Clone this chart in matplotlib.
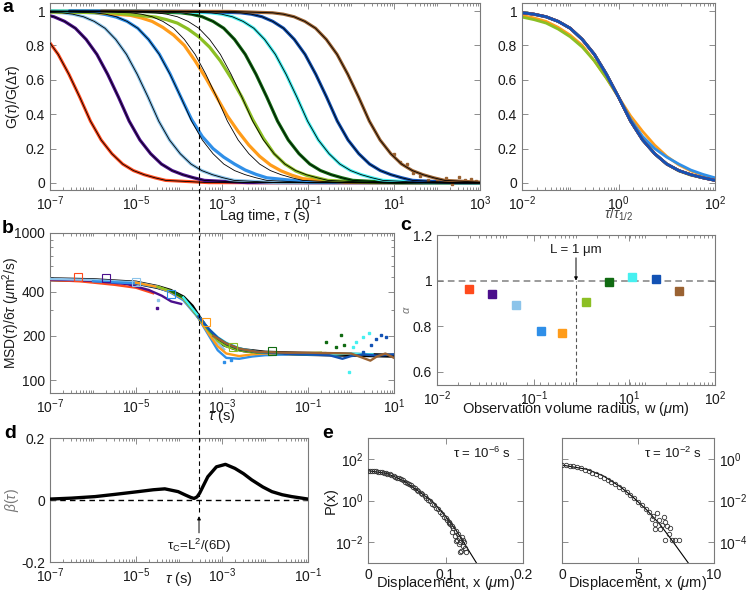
import numpy as np
import matplotlib
matplotlib.use('Agg')
import matplotlib.pyplot as plt
from matplotlib.lines import Line2D
from matplotlib import transforms as mtrans
from matplotlib.ticker import LogLocator, NullFormatter, NullLocator, FixedLocator, FixedFormatter

plt.rcParams['font.family'] = ['Liberation Sans', 'DejaVu Sans']
plt.rcParams['mathtext.fontset'] = 'custom'
plt.rcParams['mathtext.rm'] = 'Liberation Sans'
plt.rcParams['mathtext.it'] = 'Liberation Sans:italic'

# ---------------- data ----------------
colors = ['#ff4a1c', '#4b0f8c', '#8cc4ea', '#2f8fe8', '#ff9c1a',
          '#8cbf24', '#116b12', '#46f0f0', '#1352b4', '#9a6232']
# half-decay times of the correlation curves (s)
tau_half = [4.9e-7, 3.9e-6, 1.9e-5, 1.1e-4, 7.5e-4, 2.9e-3, 1.1e-2, 5.5e-2, 0.27, 1.5]
# curve shape used by each series (index into shapes)
shape_of = ['normal', 'normal', 'normal', 'tail', 'broad', 'yg', 'normal', 'normal', 'normal', 'normal']

# master curves, G vs log10(tau/tau_half)
logr = [-6, -3, -2, -1.75, -1.5, -1.25, -1, -0.75, -0.5, -0.25, 0, 0.25, 0.5, 0.75, 1, 1.25, 1.5, 1.75, 2, 3, 10]
G_normal = [1.0, 0.998, 0.99, 0.982, 0.967, 0.94, 0.90, 0.835, 0.748, 0.632, 0.5, 0.36, 0.25, 0.17, 0.11, 0.072, 0.048, 0.03, 0.015, 0.002, 0.0]
G_broad = [1.0, 0.995, 0.975, 0.96, 0.94, 0.905, 0.86, 0.80, 0.71, 0.61, 0.5, 0.39, 0.30, 0.22, 0.155, 0.105, 0.07, 0.045, 0.025, 0.004, 0.0]
G_tail = [1.0, 0.998, 0.99, 0.98, 0.965, 0.94, 0.90, 0.835, 0.75, 0.635, 0.5, 0.37, 0.27, 0.20, 0.15, 0.11, 0.075, 0.05, 0.03, 0.005, 0.0]
G_yg = [1.0, 0.99, 0.965, 0.95, 0.93, 0.895, 0.85, 0.79, 0.71, 0.61, 0.5, 0.37, 0.26, 0.17, 0.11, 0.07, 0.045, 0.03, 0.015, 0.002, 0.0]
shapes = {'normal': G_normal, 'broad': G_broad, 'tail': G_tail, 'yg': G_yg}

# noisy tail of the slowest (brown) curve: log10(tau), G
brown_tail_logt = [1.0, 1.15, 1.3, 1.45, 1.6, 1.8, 2.0, 2.2, 2.35, 2.5, 2.65, 2.8, 2.9]
brown_tail_G = [0.17, 0.12, 0.11, 0.06, 0.04, 0.02, 0.01, 0.03, -0.005, 0.035, 0.02, 0.025, 0.01]

# panel b: MSD/6tau (um^2/s) vs log10(tau)
b_black_logt = [-7, -6, -5, -4.5, -4.2, -3.9, -3.7, -3.55, -3.4, -3.25, -3.1, -2.95, -2.7, -2.5, -2, -1, 0, 1]
b_black_val = [485, 478, 460, 430, 405, 365, 318, 272, 235, 208, 188, 175, 165, 160, 154, 151, 149, 147]
b_logt = [
    [-7, -6.3, -5.5, -5, -4.6],
    [-7, -6, -5.2, -4.7, -4.4, -4.18, -3.95],
    [-7, -6, -5, -4.5, -4.2, -3.9, -3.55, -3.3, -3.1, -2.95],
    [-6, -5, -4.5, -4.2, -3.9, -3.55, -3.3, -3.1, -2.9, -2.6, -2.3, -2.0, -1.5],
    [-5, -4.5, -4.2, -3.9, -3.55, -3.3, -3.1, -2.9, -2.6, -2.3, -2.0, -1.5],
    [-4.5, -4.2, -3.9, -3.55, -3.3, -3.1, -2.9, -2.6, -2.3, -1.5, -1.0, -0.7],
    [-4.2, -3.9, -3.55, -3.3, -3.1, -2.9, -2.6, -2.2, -1.5, -1.0, -0.6],
    [-3.9, -3.55, -3.3, -3.1, -2.9, -2.6, -2.2, -1.5, -1.0, -0.5, 0.0, 0.5],
    [-3.55, -3.3, -3.1, -2.9, -2.6, -2.2, -1.5, -1.0, -0.5, -0.2, 0.0, 0.3, 0.6, 1.0],
    [-3.2, -2.9, -2.6, -2.2, -1.5, -1.0, -0.5, 0.0, 0.25, 0.45, 0.6, 0.8, 1.0],
]
b_val = [
    [480, 470, 445, 425, 390],
    [484, 474, 450, 410, 375, 343, 330],
    [488, 480, 462, 432, 400, 355, 268, 215, 180, 162],
    [470, 455, 428, 395, 350, 265, 200, 160, 142, 140, 145, 148, 150],
    [460, 430, 400, 358, 268, 205, 170, 152, 146, 150, 152, 152],
    [432, 405, 362, 270, 215, 185, 170, 160, 155, 152, 153, 154],
    [405, 364, 272, 220, 192, 176, 162, 155, 152, 152, 153],
    [365, 273, 222, 196, 180, 165, 156, 151, 150, 149, 152, 150],
    [272, 222, 195, 178, 164, 156, 151, 150, 148, 140, 146, 150, 147, 150],
    [200, 178, 164, 156, 154, 154, 153, 152, 143, 136, 145, 152, 142],
]
# scattered noisy points in panel b: (series index, log10 tau, value)
b_noise_idx = [1, 2, 3, 3, 6, 6, 6, 6, 7, 7, 7, 7, 7, 8, 8, 8, 8, 8]
b_noise_logt = [-4.52, -4.5, -2.95, -2.8, -0.58, -0.23, -0.35, -0.16, 0.12, 0.27, 0.42, 0.04, -0.04, 0.58, 0.70, 0.81, 0.27, 0.46]
b_noise_val = [312, 350, 133, 137, 182, 202, 169, 173, 182, 196, 208, 169, 114, 192, 202, 197, 156, 173]
# open squares in panel b
b_sq_idx = [0, 1, 2, 3, 4, 5, 6]
b_sq_logt = [-6.34, -5.69, -5.0, -4.18, -3.38, -2.75, -1.84]
b_sq_val = [500, 492, 467, 385, 250, 168, 158]

# panel c: observation volume radius (um) and exponent alpha
c_w = [0.029, 0.062, 0.137, 0.31, 0.63, 1.39, 3.0, 6.4, 14.2, 30.3]
c_alpha = [0.962, 0.943, 0.894, 0.781, 0.770, 0.906, 0.993, 1.016, 1.006, 0.955]

# panel d: beta(tau)
d_logt = [-7, -6.5, -5.95, -5.5, -4.95, -4.6, -4.33, -4.02, -3.85, -3.72, -3.65, -3.58, -3.52, -3.42, -3.33, -3.13, -2.92, -2.70, -2.5, -2.31, -2.05, -1.84, -1.6, -1.38, -1.0]
d_beta = [0.003, 0.006, 0.011, 0.018, 0.027, 0.033, 0.036, 0.027, 0.016, 0.008, 0.005, 0.010, 0.022, 0.050, 0.075, 0.107, 0.115, 0.102, 0.085, 0.065, 0.042, 0.027, 0.017, 0.011, 0.003]

tau_c = 2.92e-4  # crossover time L^2/(6D)

# panel e: displacement distributions, log10 P(x)
e1_fit_x = [0, 0.024, 0.0455, 0.067, 0.084, 0.099, 0.114, 0.127, 0.140, 0.15]
e1_fit_logP = [1.43, 1.30, 0.96, 0.40, -0.08, -0.71, -1.45, -2.22, -3.0, -3.7]
e1_x = [0.000, 0.003, 0.005, 0.008, 0.010, 0.013, 0.015, 0.018, 0.020, 0.023, 0.025, 0.028, 0.030, 0.033,
        0.035, 0.038, 0.040, 0.043, 0.045, 0.048, 0.050, 0.053, 0.055, 0.058, 0.060, 0.063, 0.065, 0.068,
        0.070, 0.073, 0.075, 0.078, 0.080, 0.083, 0.085, 0.088, 0.090, 0.093, 0.095, 0.098, 0.100, 0.102,
        0.104, 0.106, 0.108, 0.105, 0.108, 0.110, 0.112, 0.113, 0.115, 0.116, 0.117, 0.118, 0.119, 0.120,
        0.121, 0.122, 0.123, 0.124, 0.125, 0.126, 0.119, 0.113]
e1_logP = [1.43, 1.43, 1.42, 1.42, 1.41, 1.39, 1.38, 1.36, 1.34, 1.31, 1.29, 1.25, 1.22, 1.18,
           1.15, 1.10, 1.06, 1.01, 0.97, 0.90, 0.86, 0.79, 0.74, 0.66, 0.61, 0.52, 0.46, 0.37,
           0.31, 0.21, 0.14, 0.04, -0.04, -0.15, -0.22, -0.35, -0.43, -0.55, -0.64, -0.77, -0.86, -0.95,
           -1.05, -1.14, -1.24, -1.1, -1.5, -1.3, -1.7, -1.45, -1.9, -1.6, -2.1, -1.8, -2.0, -2.4,
           -1.75, -2.2, -1.9, -2.0, -2.3, -2.45, -2.45, -1.95]
e2_fit_x = [0, 1.62, 2.72, 3.82, 4.69, 5.57, 6.45, 7.32, 8.3, 9.0]
e2_fit_logP = [-0.30, -0.50, -0.82, -1.33, -1.85, -2.45, -3.15, -4.0, -4.99, -5.8]
e2_x = [0, 0.25, 0.5, 0.75, 1.0, 1.25, 1.5, 1.75, 2.0, 2.25, 2.5, 2.75, 3.0, 3.25, 3.5, 3.75, 4.0, 4.25,
        4.5, 4.75, 5.0, 5.25, 5.5, 5.75, 6.0, 5.92, 6.14, 6.36, 6.58, 6.8, 6.47, 7.01, 6.14, 6.69, 6.25,
        7.23, 7.67, 7.45, 6.8, 6.9, 7.1]
e2_logP = [-0.30, -0.30, -0.32, -0.36, -0.40, -0.45, -0.52, -0.59, -0.66, -0.74, -0.82, -0.91, -1.00, -1.11,
           -1.22, -1.33, -1.45, -1.58, -1.72, -1.88, -2.05, -2.22, -2.40, -2.57, -2.75, -2.87, -3.11, -2.95,
           -3.19, -3.03, -3.35, -3.59, -3.35, -2.78, -2.62, -3.91, -3.91, -3.91, -3.9, -3.2, -3.3]

# ---------------- figure ----------------
W, H = 747, 597
fig = plt.figure(figsize=(W / 100, H / 100), dpi=100)


def box(l, t, r, b):
    return fig.add_axes([l / W, 1 - b / H, (r - l) / W, (b - t) / H])


SPINE = '#7a7a7a'
TXT = '#1a1a1a'


def style(ax, fs=10):
    for s in ax.spines.values():
        s.set_color(SPINE)
        s.set_linewidth(0.8)
    ax.tick_params(axis='both', which='both', direction='in', top=True, right=True,
                   color=SPINE, labelcolor=TXT, labelsize=fs, width=0.6)
    ax.tick_params(which='major', length=4)
    ax.tick_params(which='minor', length=2)


def logminor(ax, axis='x'):
    loc = LogLocator(base=10, subs=np.arange(1, 10), numticks=200)
    a = ax.xaxis if axis == 'x' else ax.yaxis
    a.set_minor_locator(loc)
    a.set_minor_formatter(NullFormatter())


def ylabel_at(ax, text, xpix, left, width, **kw):
    # xpix: pixel position of the label's right (baseline) side
    ax.set_ylabel(text, **kw)
    ax.yaxis.set_label_coords((xpix - left) / width, 0.5)


ax_a = box(50, 3, 480, 190)
ax_ar = box(522, 3, 715, 190)
ax_b = box(50, 233, 394, 393)
ax_c = box(437, 235, 715, 385)
ax_d = box(50, 438, 308, 562)
ax_e1 = box(368, 438, 523, 563)
ax_e2 = box(562, 438, 714, 563)

lr = np.array(logr)

# ---- panel a (left) ----
for i in range(10):
    G = np.array(shapes[shape_of[i]])
    ax_a.plot(tau_half[i] * 10 ** lr, G, color=colors[i], lw=2.3, solid_capstyle='butt', zorder=2)
ax_a.plot(10 ** np.array(brown_tail_logt), brown_tail_G, ls='none', marker='s', ms=1.8,
          color=colors[9], zorder=2)
for i in range(10):
    ax_a.plot(tau_half[i] * 10 ** lr, G_normal, color='k', lw=0.6, zorder=3)
ax_a.set_xscale('log')
ax_a.set_xlim(1e-7, 1e3)
ax_a.set_ylim(-0.041, 1.047)
style(ax_a)
ax_a.xaxis.set_major_locator(FixedLocator([1e-7, 1e-5, 1e-3, 1e-1, 1e1, 1e3]))
logminor(ax_a, 'x')
ax_a.yaxis.set_major_locator(FixedLocator([0, 0.2, 0.4, 0.6, 0.8, 1.0]))
ax_a.yaxis.set_major_formatter(FixedFormatter(['0', '0.2', '0.4', '0.6', '0.8', '1']))
ylabel_at(ax_a, r'G($\tau$)/G($\Delta\tau$)', 22, 50, 430, fontsize=10, color=TXT)
ax_a.set_xlabel(r'Lag time, $\tau$ (s)', fontsize=10.5, color=TXT, labelpad=-5)

# ---- panel a (right) ----
order = [4, 5, 3, 2, 6, 7, 9, 1, 0, 8]
for i in order:
    ax_ar.plot(10 ** lr, shapes[shape_of[i]], color=colors[i], lw=2.0, zorder=2)
ax_ar.set_xscale('log')
ax_ar.set_xlim(1e-2, 1e2)
ax_ar.set_ylim(-0.041, 1.047)
style(ax_ar)
ax_ar.xaxis.set_major_locator(FixedLocator([1e-2, 1e0, 1e2]))
logminor(ax_ar, 'x')
ax_ar.yaxis.set_major_locator(FixedLocator([0, 0.2, 0.4, 0.6, 0.8, 1.0]))
ax_ar.yaxis.set_major_formatter(FixedFormatter(['0', '0.2', '0.4', '0.6', '0.8', '1']))
ax_ar.set_xlabel(r'$\tau/\tau_{1/2}$', fontsize=10, color='#444444', labelpad=-6)

# ---- panel b ----
ax_b.plot(10 ** np.array(b_black_logt), b_black_val, color='k', lw=3.0, zorder=2)
for i in range(10):
    ax_b.plot(10 ** np.array(b_logt[i]), b_val[i], color=colors[i], lw=1.7, zorder=3)
for k in range(len(b_noise_idx)):
    ax_b.plot(10 ** b_noise_logt[k], b_noise_val[k], ls='none', marker='s', ms=2.0,
              color=colors[b_noise_idx[k]], zorder=3)
for k in range(len(b_sq_idx)):
    ax_b.plot(10 ** b_sq_logt[k], b_sq_val[k], ls='none', marker='s', ms=5.5, mfc='none',
              mec=colors[b_sq_idx[k]], mew=0.8, zorder=4)
ax_b.set_xscale('log')
ax_b.set_yscale('log')
ax_b.set_xlim(1e-7, 1e1)
ax_b.set_ylim(82, 1000)
style(ax_b)
ax_b.xaxis.set_major_locator(FixedLocator([1e-7, 1e-5, 1e-3, 1e-1, 1e1]))
logminor(ax_b, 'x')
ax_b.yaxis.set_major_locator(FixedLocator([100, 200, 400, 1000]))
ax_b.yaxis.set_major_formatter(FixedFormatter(['100', '200', '400', '1000']))
ax_b.yaxis.set_minor_locator(FixedLocator([300, 500, 600, 700, 800, 900]))
ax_b.yaxis.set_minor_formatter(NullFormatter())
ylabel_at(ax_b, r'MSD($\tau$)/6$\tau$ ($\mu$m$^2$/s)', 22, 50, 344, fontsize=10, color=TXT)
ax_b.set_xlabel(r'$\tau$ (s)', fontsize=10.5, color=TXT, labelpad=-7)

# ---- panel c ----
for i in range(10):
    ax_c.plot(c_w[i], c_alpha[i], ls='none', marker='s', ms=5.5, color=colors[i],
              mec=colors[i], zorder=3)
ax_c.axhline(1.0, color='#8a8a8a', lw=1.2, ls=(0, (4, 2.5)), zorder=1)
ax_c.plot([1.0, 1.0], [0.5, 1.0], color='#555555', lw=0.8, ls=(0, (3.5, 2.5)), zorder=1)
ax_c.annotate('', xy=(1.0, 1.0), xytext=(1.0, 1.1),
              arrowprops=dict(arrowstyle='-|>', color='k', lw=0.7, mutation_scale=5,
                              shrinkA=0, shrinkB=0))
ax_c.text(1.0, 1.135, 'L = 1 μm', ha='center', va='center', fontsize=9.5, color=TXT)
ax_c.set_xscale('log')
ax_c.set_xlim(1e-2, 1e2)
ax_c.set_ylim(0.543, 1.2)
style(ax_c)
ax_c.xaxis.set_major_locator(FixedLocator([1e-2, 10 ** -0.6, 10 ** 0.76, 1e2]))
ax_c.xaxis.set_major_formatter(FixedFormatter([r'$10^{-2}$', r'$10^{-1}$', r'$10^{1}$', r'$10^{2}$']))
logminor(ax_c, 'x')
ax_c.yaxis.set_major_locator(FixedLocator([0.6, 0.8, 1.0, 1.2]))
ax_c.yaxis.set_major_formatter(FixedFormatter(['0.6', '0.8', '1', '1.2']))
ylabel_at(ax_c, r'$\alpha$', 412, 437, 278, fontsize=8, color='#777777')
ax_c.set_xlabel(r'Observation volume radius, w ($\mu$m)', fontsize=10.5, color=TXT, labelpad=-6)

# ---- panel d ----
ax_d.axhline(0, color='k', lw=1.0, ls=(0, (4, 3)), zorder=1)
ax_d.plot(10 ** np.array(d_logt), d_beta, color='k', lw=2.4, zorder=3, solid_capstyle='round')
ax_d.annotate('', xy=(tau_c, -0.052), xytext=(tau_c, -0.106),
              arrowprops=dict(arrowstyle='-|>', color='k', lw=0.7, mutation_scale=5,
                              shrinkA=0, shrinkB=0))
ax_d.text(tau_c, -0.148, r'τ$_\mathregular{C}$=L$^\mathregular{2}$/(6D)', ha='center', va='center',
          fontsize=9.5, color=TXT)
ax_d.set_xscale('log')
ax_d.set_xlim(1e-7, 1e-1)
ax_d.set_ylim(-0.2, 0.2)
style(ax_d)
ax_d.xaxis.set_major_locator(FixedLocator([1e-7, 1e-5, 1e-3, 1e-1]))
logminor(ax_d, 'x')
ax_d.yaxis.set_major_locator(FixedLocator([-0.2, 0, 0.2]))
ax_d.yaxis.set_major_formatter(FixedFormatter(['-0.2', '0', '0.2']))
ylabel_at(ax_d, r'$\beta(\tau)$', 21, 50, 258, fontsize=10, color='#777777')
ax_d.set_xlabel(r'$\tau$ (s)', fontsize=10.5, color=TXT, labelpad=-11)

# ---- panel e ----
ax_e1.plot(e1_fit_x, 10 ** np.array(e1_fit_logP), color='k', lw=0.8, zorder=2)
ax_e1.plot(e1_x, 10 ** np.array(e1_logP), ls='none', marker='o', ms=3.2, mfc='none',
           mec='#333333', mew=0.6, zorder=3)
ax_e1.set_yscale('log')
ax_e1.set_xlim(0, 0.2)
ax_e1.set_ylim(1e-3, 1e3)
style(ax_e1)
ax_e1.yaxis.set_major_locator(FixedLocator([1e-2, 1e0, 1e2]))
ax_e1.yaxis.set_minor_locator(NullLocator())
ax_e1.xaxis.set_major_locator(FixedLocator([0, 0.1, 0.2]))
ax_e1.xaxis.set_major_formatter(FixedFormatter(['0', '0.1', '0.2']))
ylabel_at(ax_e1, 'P(x)', 338, 368, 155, fontsize=10.5, color=TXT)
ax_e1.set_xlabel(r'Displacement, x ($\mu$m)', fontsize=10.5, color=TXT, labelpad=-6)
ax_e1.text(0.735, 0.88, r'τ = 10$^{-6}$ s', transform=ax_e1.transAxes, ha='center', va='center',
           fontsize=9.5, color=TXT)

ax_e2.plot(e2_fit_x, 10 ** np.array(e2_fit_logP), color='k', lw=0.8, zorder=2)
ax_e2.plot(e2_x, 10 ** np.array(e2_logP), ls='none', marker='o', ms=3.2, mfc='none',
           mec='#333333', mew=0.6, zorder=3)
ax_e2.set_yscale('log')
ax_e2.set_xlim(0, 10)
ax_e2.set_ylim(1e-5, 1e1)
style(ax_e2)
ax_e2.yaxis.tick_right()
ax_e2.tick_params(axis='y', which='both', left=True, right=True, labelleft=False, labelright=True,
                  direction='in')
ax_e2.yaxis.set_major_locator(FixedLocator([1e-4, 1e-2, 1e0]))
ax_e2.yaxis.set_minor_locator(NullLocator())
ax_e2.xaxis.set_major_locator(FixedLocator([0, 5, 10]))
ax_e2.xaxis.set_major_formatter(FixedFormatter(['0', '5', '10']))
ax_e2.set_xlabel(r'Displacement, x ($\mu$m)', fontsize=10.5, color=TXT, labelpad=-6)
ax_e2.text(0.73, 0.88, r'τ = 10$^{-2}$ s', transform=ax_e2.transAxes, ha='center', va='center',
           fontsize=9.5, color=TXT)

# ---- vertical dashed line through panels a, b, d ----
trans = mtrans.blended_transform_factory(ax_a.transData, fig.transFigure)
vline = Line2D([tau_c, tau_c], [1 - 2 / H, 1 - 514 / H], transform=trans, color='k', lw=0.8,
               ls=(0, (4, 3)), zorder=5)
fig.add_artist(vline)

# ---- panel letters ----
for lab, x, y in [('a', 8, 8), ('b', 8, 229), ('c', 406, 226), ('d', 10, 434), ('e', 328, 433)]:
    fig.text(x / W, 1 - y / H, lab, fontsize=14, fontweight='bold', ha='center', va='center')

fig.savefig('out.png', dpi=100)
